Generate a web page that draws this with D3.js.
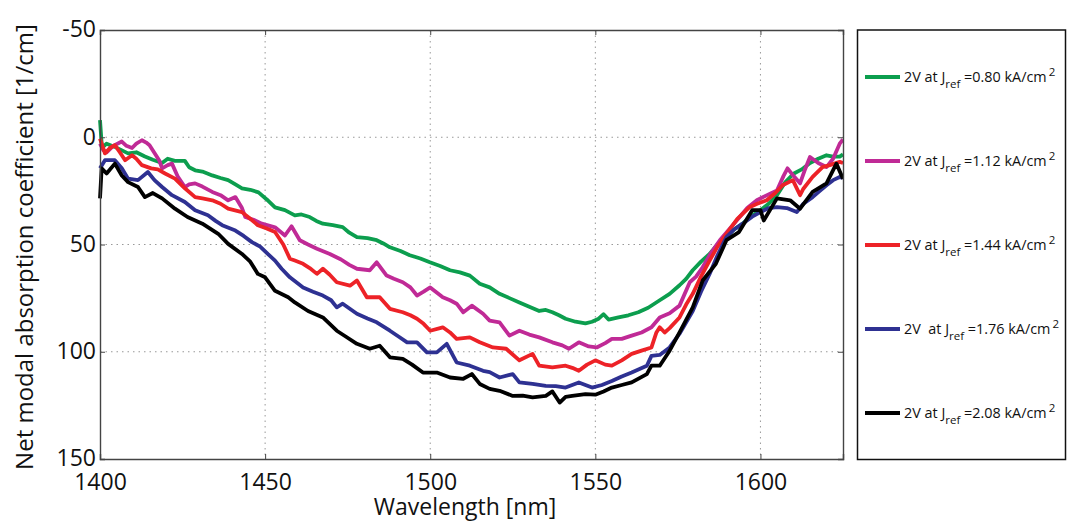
<!DOCTYPE html>
<html>
<head>
<meta charset="utf-8">
<script src="https://d3js.org/d3.v7.min.js"></script>
<style>
  body { margin: 0; background: #fff; }
  svg text { font-family: "Open Sans", "DejaVu Sans", sans-serif; fill: #111; }
</style>
</head>
<body>
<div id="chart"></div>
<script>
// wavelength [nm], net modal absorption [1/cm]
var green = [[1400,-8],[1400.6,5],[1402,3],[1404.5,4.5],[1406.5,6],[1408.5,7.5],[1411,7],[1413.6,9],[1416,10.5],[1418.8,12],[1420.5,10],[1422.7,11],[1425.7,11],[1427,14],[1428.8,15.4],[1431,16],[1434,17.8],[1436.5,19],[1438.8,20],[1441,22],[1443,23.8],[1445.5,24.5],[1448,25.7],[1450.5,29],[1453,32.7],[1456,34],[1459,36.4],[1461,36],[1463.5,37.2],[1465.5,39],[1467.5,40.3],[1470.5,41],[1473.5,41.9],[1475.5,44.5],[1477.8,46.6],[1481,47],[1483.8,48],[1485.8,49.5],[1487.8,51.3],[1491,53],[1493.8,55],[1497,56.5],[1499.9,58.3],[1503,60],[1506,62],[1509,63],[1512,64.5],[1515,68.3],[1518,70],[1521,73],[1524,75],[1527,77],[1530,79],[1533,81],[1535,80.5],[1537,81.6],[1539,83],[1541,84.6],[1544,86],[1547,86.8],[1549,86],[1551,84.6],[1552.5,82.5],[1554,85],[1557,84],[1560,83],[1563,81.6],[1566,79.5],[1569.5,76],[1572.5,73],[1575.5,69],[1577.5,66],[1579.5,62],[1582,58],[1584.6,54.4],[1587,50],[1589.7,46.6],[1592,43],[1594.6,40.3],[1597,37],[1600,34],[1602.5,31],[1605,27],[1607.5,21],[1610,17],[1612.5,15],[1615,12],[1617.5,10],[1620,8.4],[1622,9],[1624,9],[1625,8]];
var magenta = [[1400,3],[1401,6],[1402,7],[1404,4],[1406.6,2],[1408,4],[1409.7,5],[1411,3],[1412.7,1.4],[1414,2.5],[1415,3.7],[1416.6,7.6],[1418,11],[1418.8,14.5],[1420.5,13],[1421.8,12.3],[1423.6,18.5],[1425.7,23.2],[1427,22],[1428.8,21.5],[1431,23],[1434,25.5],[1436.5,27],[1438.8,29.4],[1441,27.9],[1443,33],[1444,37.2],[1446.5,38.5],[1449,40.3],[1453,42],[1456,45.8],[1458,41.5],[1460.5,48],[1463,50],[1465.7,52],[1469.6,54.4],[1473,57],[1475.5,59.5],[1477.8,61.3],[1481.7,62],[1483.8,58.3],[1486.8,64.5],[1489,66],[1491.7,67.6],[1494,70],[1496,73.8],[1498,72],[1500,70],[1503.8,74.6],[1506,76],[1508,77.6],[1510,81.6],[1512.6,78.5],[1516,82.3],[1518,85.5],[1521,86.3],[1524,92.5],[1527,90.2],[1530,92],[1533,93.3],[1537,95.6],[1540,97],[1542,98.6],[1545,95.6],[1548,97.5],[1550.4,98],[1553,96],[1555,94],[1558,94],[1561,92.5],[1564,91],[1567,88.6],[1569.5,84],[1572.5,82],[1575.5,78.5],[1578.6,67.6],[1580.5,65],[1582.5,60.6],[1585,54],[1587.7,48],[1590.5,43],[1593.7,37.2],[1596,33],[1598.9,29.4],[1602,27],[1605,24.8],[1607,18],[1608.2,14.5],[1610,18],[1612,21.5],[1613.5,15],[1615,9.2],[1617.5,12],[1620,13.9],[1622,10],[1624,3],[1625,1]];
var red = [[1400,0.6],[1401.5,7.5],[1403,5],[1404.5,3.7],[1406,7],[1407.6,10.7],[1409.7,8.4],[1411,10],[1412.7,13],[1415.5,14.5],[1417.5,15],[1419.7,16.9],[1422.7,19.3],[1425.7,23.8],[1428.8,27.9],[1431,28.5],[1434,29.4],[1436.5,31],[1438.8,33.3],[1443,34.9],[1445.5,38],[1447.8,41],[1450.5,42.5],[1453,44.2],[1455.5,50],[1457.5,56.6],[1459,57.5],[1461.5,59],[1463.5,61],[1465.7,63.7],[1467.5,61.3],[1469.5,64],[1471.7,67.6],[1475.7,69.2],[1477.8,66.8],[1480.8,74.6],[1484.7,74.6],[1487.8,80],[1491.7,81.6],[1494,83],[1496,84.6],[1498,87],[1500,90.2],[1503.8,88.6],[1506,91],[1508,94],[1512,93.3],[1515,95.6],[1519,98],[1523,98.6],[1527,104],[1531,101],[1533,106.5],[1537,107.3],[1541,106.5],[1543,107.5],[1545,108.9],[1547.5,106],[1550,104],[1553,106],[1555,106.5],[1558,104],[1561,101],[1564,99.5],[1567,98],[1568.5,91],[1569.5,88.6],[1571,91],[1572.5,89],[1575.5,84],[1577.5,78],[1579.5,73],[1582,65],[1584.6,57.5],[1587,51],[1589.7,45],[1593,38],[1596.7,32.6],[1599,31],[1601.9,29.4],[1604.5,26],[1606.7,22.4],[1609.8,20],[1612,27],[1613,24],[1615.8,18.5],[1618.8,13.9],[1621,13],[1624,11.5],[1625,12]];
var blue = [[1400,14.5],[1401.5,10.7],[1404.5,10.7],[1406.6,14.5],[1408.5,19.3],[1411.5,20],[1414.5,16.2],[1416.5,20],[1418.8,23.2],[1421.8,27],[1425.7,30.2],[1428.8,34],[1432.7,36.4],[1435,39],[1437,41],[1441,43.5],[1443.5,46],[1446,48.9],[1448.5,51],[1450.8,54.4],[1453,57.5],[1455,61.3],[1457.5,65.3],[1461.5,70],[1464.5,72],[1467.5,73.8],[1470,76],[1471.7,79.3],[1473.5,77.6],[1477.8,82.3],[1481,84.5],[1483.8,86.3],[1487.8,90.2],[1490.5,93],[1493,95.6],[1496,95.6],[1499,100.3],[1502,100.3],[1505,96.3],[1508,105],[1512,106.5],[1516,108.9],[1518,109.5],[1521,112],[1525,110.4],[1527,114.3],[1531,115],[1535,115.9],[1538,116],[1541,116.7],[1545,114.3],[1549,116.7],[1552,115.5],[1555,113.6],[1558,111.5],[1561,109.7],[1565.6,106.5],[1567,101.9],[1569.5,101.5],[1572.5,98],[1575.5,91.6],[1579.5,81],[1582,72],[1584.6,63.7],[1587,55],[1589.7,46.6],[1592,43],[1594.6,40.3],[1597.5,37],[1600,34.9],[1602.5,33],[1605,32.6],[1608,33],[1611,34.9],[1613,31],[1615.8,27.9],[1618,25],[1620,22.4],[1622,20],[1624,18.5],[1625,19]];
var black = [[1400,28.5],[1400.5,14.5],[1402,16.9],[1404.5,12.3],[1406.6,17.8],[1408.5,20.9],[1411.5,23.2],[1413.6,27.9],[1416,26],[1418.8,28.5],[1422.7,33.3],[1426.5,37.2],[1431,40.3],[1435.8,45],[1438.8,49.7],[1443,54.4],[1445.5,58],[1447.8,63.7],[1450,65.3],[1453,71.6],[1457,74.6],[1459,77],[1463,81],[1467.5,84],[1471.7,90.2],[1474.5,93],[1477.8,96.3],[1481.7,98.6],[1484.7,97.2],[1487.8,102.6],[1491.7,103.3],[1494.5,106],[1497.8,109.7],[1502,109.7],[1506,112],[1510,112.6],[1512.6,110.4],[1515,115],[1518,117.3],[1521,118.2],[1525,120.6],[1528,120.5],[1531,121.3],[1535,120.6],[1537,118.5],[1539.2,123.7],[1541,121],[1543,120.6],[1547,119.8],[1550,120],[1552.5,118.5],[1555,116.7],[1558,115.5],[1561,114.3],[1565.6,110.4],[1567,106.5],[1569.5,106.5],[1572.5,99.5],[1575.5,91],[1579.5,79.3],[1582.5,66.8],[1586.5,59],[1589.7,48],[1593.5,44.2],[1597.5,34],[1600,34],[1601,38.8],[1605,28.5],[1609,29.4],[1612,33.3],[1615.8,25.5],[1620,21.5],[1623,12.3],[1625,19.3]];

var currents = ["0.80", "1.12", "1.44", "1.76", "2.08"];
var prefixes = ["2V at J", "2V at J", "2V at J", "2V  at J", "2V at J"];
var colors = ["#0c9e4e", "#c02a96", "#ed2227", "#2e3192", "#000000"];
var seriesList = [green, magenta, red, blue, black];
var xTicks = [1400, 1450, 1500, 1550, 1600];
var yTicks = [-50, 0, 50, 100, 150];

var W = 1068, H = 523;
var svg = d3.select("#chart").append("svg")
    .attr("width", W)
    .attr("height", H);

var x = d3.scaleLinear().domain([1400, 1625]).range([100, 843]);
var y = d3.scaleLinear().domain([-50, 150]).range([30, 459]);

// grid
svg.append("g").selectAll("line")
    .data(xTicks.slice(1))
    .enter().append("line")
        .attr("x1", function(d) { return x(d); })
        .attr("x2", function(d) { return x(d); })
        .attr("y1", y(-50))
        .attr("y2", y(150))
        .attr("stroke", "#999")
        .attr("stroke-dasharray", "1.5,4");
svg.append("g").selectAll("line")
    .data(yTicks.slice(1, -1))
    .enter().append("line")
        .attr("x1", x(1400))
        .attr("x2", x(1625))
        .attr("y1", function(d) { return y(d); })
        .attr("y2", function(d) { return y(d); })
        .attr("stroke", "#999")
        .attr("stroke-dasharray", "1.5,4");

// curves
svg.append("clipPath").attr("id", "plotclip")
    .append("rect")
        .attr("x", x(1400) - 2).attr("y", y(-50))
        .attr("width", x(1625) - x(1400) + 2).attr("height", y(150) - y(-50));

var line = d3.line()
    .x(function(d) { return x(d[0]); })
    .y(function(d) { return y(d[1]); });

svg.append("g").attr("clip-path", "url(#plotclip)")
    .selectAll("path")
    .data(seriesList)
    .enter().append("path")
        .attr("d", line)
        .attr("fill", "none")
        .attr("stroke", function(d, i) { return colors[i]; })
        .attr("stroke-width", 3.8)
        .attr("stroke-linejoin", "round");

// axes
var plain = function(d) { return String(d); };
var xAxis = svg.append("g")
    .attr("transform", "translate(0," + y(150) + ")")
    .call(d3.axisBottom(x).tickValues(xTicks).tickSize(-5).tickPadding(15).tickFormat(plain));
var yAxis = svg.append("g")
    .attr("transform", "translate(" + x(1400) + ",0)")
    .call(d3.axisLeft(y).tickValues(yTicks).tickSize(-5).tickPadding(4).tickFormat(plain));
svg.append("g")
    .attr("transform", "translate(0," + y(-50) + ")")
    .call(d3.axisTop(x).tickValues(xTicks).tickSize(-5).tickFormat(""));
svg.append("g")
    .attr("transform", "translate(" + x(1625) + ",0)")
    .call(d3.axisRight(y).tickValues(yTicks).tickSize(-5).tickFormat(""));

svg.selectAll(".domain").attr("stroke", "#444").attr("stroke-width", 1.4);
svg.selectAll(".tick line").attr("stroke", "#444");
svg.selectAll(".tick text")
    .style("font-size", "23px")
    .style("font-family", "'Open Sans', sans-serif")
    .attr("fill", "#111");
yAxis.selectAll(".tick text").attr("dy", "0.3em");

// axis titles
svg.append("text")
    .attr("x", 465)
    .attr("y", 515)
    .attr("text-anchor", "middle")
    .style("font-size", "23px")
    .text("Wavelength [nm]");
svg.append("text")
    .attr("transform", "translate(33," + 247 + ") rotate(-90)")
    .attr("text-anchor", "middle")
    .style("font-size", "24px")
    .text("Net modal absorption coefficient [1/cm]");

// legend
svg.append("rect")
    .attr("x", 857.5)
    .attr("y", 30)
    .attr("width", 208)
    .attr("height", 429.5)
    .attr("fill", "none")
    .attr("stroke", "#111")
    .attr("stroke-width", 1.5);

var leg = svg.append("g").selectAll("g")
    .data(currents)
    .enter().append("g")
        .attr("transform", function(d, i) { return "translate(865," + (77 + i * 84) + ")"; });
leg.append("line")
    .attr("x1", 0).attr("x2", 35)
    .attr("stroke", function(d, i) { return colors[i]; })
    .attr("stroke-width", 3.8);
var lt = leg.append("text")
    .attr("x", 39)
    .attr("y", 5)
    .style("font-size", "14.4px")
    .style("white-space", "pre");
lt.append("tspan").text(function(d, i) { return prefixes[i]; });
lt.append("tspan").attr("dy", 6).style("font-size", "11.5px").text("ref");
lt.append("tspan").attr("dy", -6).text(function(d) { return " =" + d + " kA/cm"; });
lt.append("tspan").attr("dy", -6).attr("dx", 2).style("font-size", "11.5px").text("2");
</script>
</body>
</html>
